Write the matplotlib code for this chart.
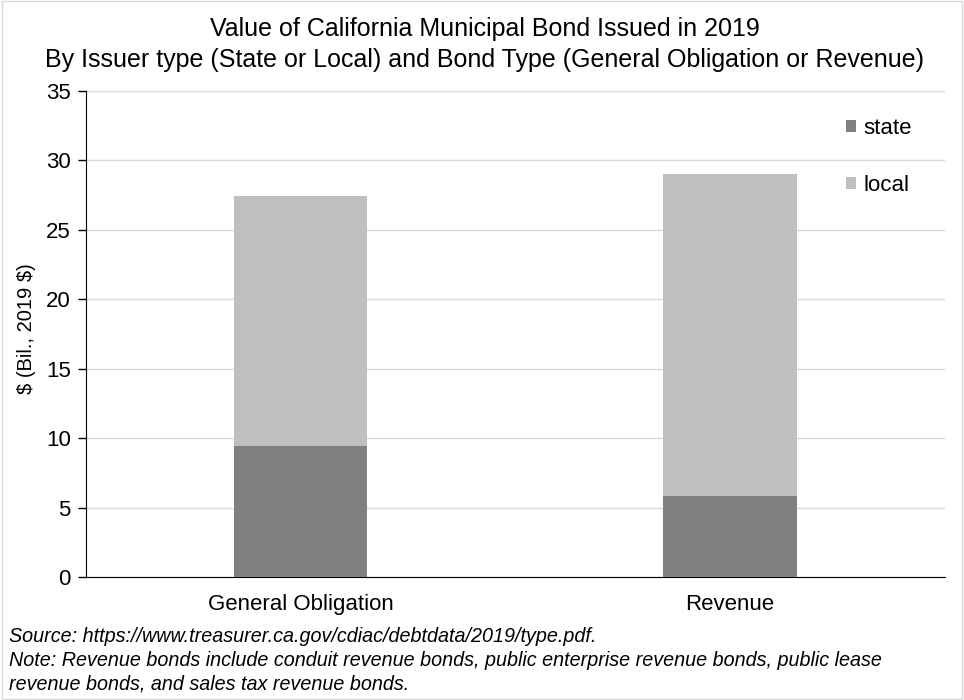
import matplotlib
matplotlib.use('Agg')
import matplotlib.pyplot as plt
import numpy as np

plt.rcParams['font.family'] = ['Liberation Sans', 'DejaVu Sans']

# Данни
categories = ['General Obligation', 'Revenue']
state = [9.45, 5.8]
local = [18.0, 23.2]

fig = plt.figure(figsize=(9.64, 7), dpi=100)
ax = fig.add_axes([0.0892, 0.1757, 0.8908, 0.6943])

x = np.arange(len(categories))
w = 0.31
ax.bar(x, state, w, color='#808080', label='state', zorder=3)
ax.bar(x, local, w, bottom=state, color='#bfbfbf', label='local', zorder=3)

ax.set_xlim(-0.5, 1.5)
ax.set_ylim(0, 35)
ax.set_yticks(range(0, 36, 5))
ax.set_xticks(x)
ax.set_xticklabels(categories)
ax.tick_params(axis='both', labelsize=16)
ax.tick_params(axis='x', length=0, pad=12)
ax.tick_params(axis='y', length=6, width=1, direction='out', pad=5)
ax.yaxis.grid(True, color='#d9d9d9', linewidth=1, zorder=0)
ax.set_axisbelow(True)
for s in ['top', 'right']:
    ax.spines[s].set_visible(False)
ax.spines['left'].set_color('black')
ax.spines['bottom'].set_color('black')
ax.set_ylabel(r'\$ (Bil., 2019 \$)', fontsize=14.5, labelpad=7)
ax.yaxis.label.set_y(0.512)

leg = ax.legend(loc='upper right', bbox_to_anchor=(0.985, 0.985), frameon=False,
                fontsize=16, handlelength=0.45, handleheight=0.45,
                handletextpad=0.35, labelspacing=1.6)

# Заглавие - два реда
fig.text(0.503, 0.9486, 'Value of California Municipal Bond Issued in 2019',
         ha='center', va='baseline', fontsize=18)
fig.text(0.503, 0.9043,
         'By Issuer type (State or Local) and Bond Type (General Obligation or Revenue)',
         ha='center', va='baseline', fontsize=18)

notes = ('Source: https://www.treasurer.ca.gov/cdiac/debtdata/2019/type.pdf.\n'
         'Note: Revenue bonds include conduit revenue bonds, public enterprise revenue bonds, public lease\n'
         'revenue bonds, and sales tax revenue bonds.')
fig.text(0.009, 0.104, notes, ha='left', va='top', fontsize=14.2,
         style='italic', linespacing=1.3)

fig.patches.append(plt.Rectangle((0.002, 0.002), 0.996, 0.996, transform=fig.transFigure,
                                 fill=False, edgecolor='#d9d9d9', linewidth=1))

plt.savefig('out.png', dpi=100)
